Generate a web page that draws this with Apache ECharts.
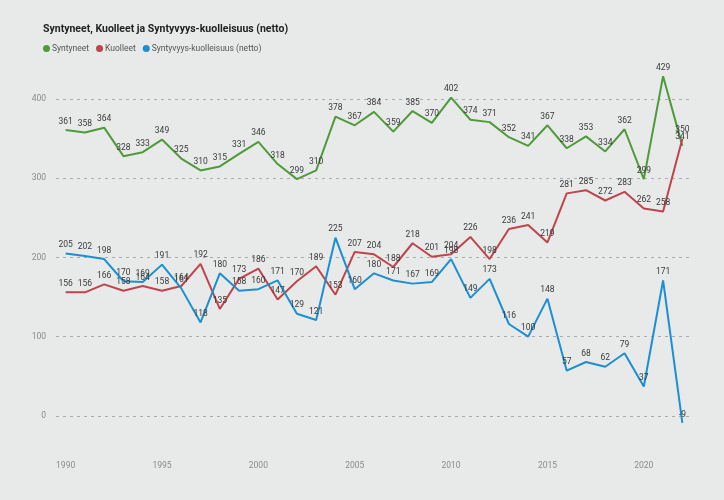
<!DOCTYPE html>
<html><head><meta charset="utf-8">
<script src="https://cdn.jsdelivr.net/npm/echarts@6/dist/echarts.min.js"></script>
<style>html,body{margin:0;padding:0;background:#e8eae9}#c{width:724px;height:500px}</style>
</head><body><div id="c"></div>
<script>
const years = ['1990','1991','1992','1993','1994','1995','1996','1997','1998','1999','2000','2001','2002','2003','2004','2005','2006','2007','2008','2009','2010','2011','2012','2013','2014','2015','2016','2017','2018','2019','2020','2021','2022'];
const syntyneet = [361,358,364,328,333,349,325,310,315,331,346,318,299,310,378,367,384,359,385,370,402,374,371,352,341,367,338,353,334,362,299,429,341];
const kuolleet = [156,156,166,158,164,158,164,192,135,173,186,147,170,189,153,207,204,188,218,201,204,226,198,236,241,219,281,285,272,283,262,258,350];
const netto = [205,202,198,170,169,191,161,118,180,158,160,171,129,121,225,160,180,171,167,169,198,149,173,116,100,148,57,68,62,79,37,171,-9];
const yTicks = [0,100,200,300,400];

const chart = echarts.init(document.getElementById('c'));
const lbl = {show:true, position:'top', fontSize:8.5, color:'#3a3a3a', fontFamily:'Roboto', distance:4};
function s(name, data, color){
  return {name, type:'line', data, symbol:'circle', symbolSize:0.1, showSymbol:true,
    lineStyle:{width:2, color}, itemStyle:{color}, label:lbl};
}
chart.setOption({
  backgroundColor:'#e8eae9',
  textStyle:{fontFamily:'Roboto'},
  title:{text:'Syntyneet, Kuolleet ja Syntyvyys-kuolleisuus (netto)', left:38, top:19,
    textStyle:{fontSize:10.5, fontWeight:'bold', color:'#222', fontFamily:'Roboto'}},
  legend:{left:38, top:39, icon:'circle', itemWidth:7, itemHeight:7, itemGap:7,
    textStyle:{fontSize:8.5, color:'#555', padding:[0,0,0,-3]},
    data:['Syntyneet','Kuolleet','Syntyvyys-kuolleisuus (netto)']},
  grid:{left:56, right:32, top:20, bottom:5, containLabel:false},
  xAxis:{type:'category', data:years, boundaryGap:true, offset:-42,
    axisLine:{show:false}, axisTick:{show:false},
    axisLabel:{interval:4, fontSize:8.5, color:'#8a8a8a'}},
  yAxis:{type:'value', min:-100, max:500, interval:100,
    axisLabel:{fontSize:8.5, color:'#8a8a8a', margin:10,
      formatter:v => yTicks.includes(v) ? String(v) : ''},
    splitLine:{showMinLine:false, showMaxLine:false, lineStyle:{type:[3,4], color:'#a9acab', width:1}}},
  series:[
    s('Syntyneet', syntyneet, '#4f9a3b'),
    s('Kuolleet', kuolleet, '#c0444c'),
    s('Syntyvyys-kuolleisuus (netto)', netto, '#1b8fd2')
  ],
  color:['#2f7d2a','#a3262b','#1461b0']
});
</script></body></html>
